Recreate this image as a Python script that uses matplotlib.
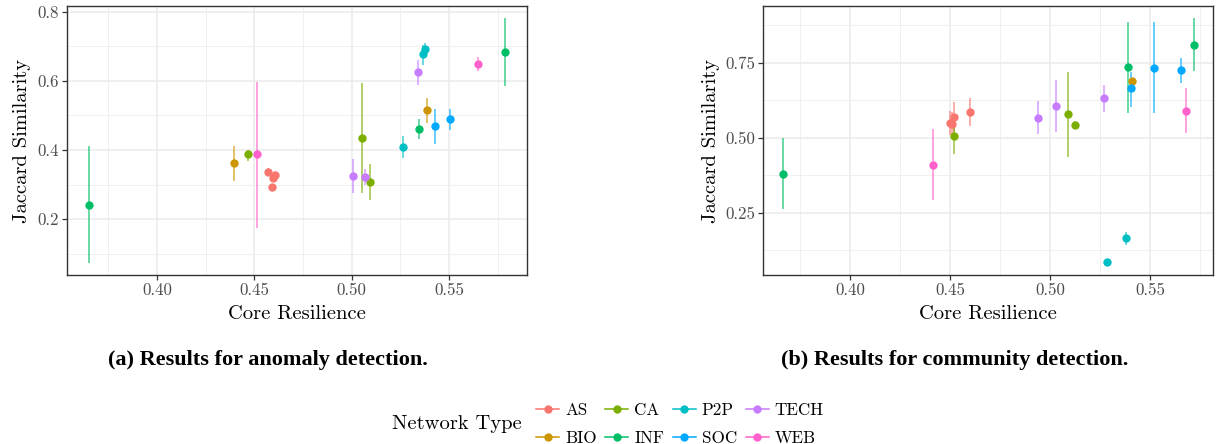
import matplotlib.pyplot as plt
from matplotlib.lines import Line2D
from matplotlib.ticker import MultipleLocator

# ------------------------------------------------------------
# Data: one list per column, per panel
# ------------------------------------------------------------
types = ["AS", "BIO", "CA", "INF", "P2P", "SOC", "TECH", "WEB"]
colors = ["#F8766D", "#CD9600", "#7CAE00", "#00BE67",
          "#00BFC4", "#00A9FF", "#C77CFF", "#FF61CC"]

# (a) anomaly detection
a_type = ["AS", "AS", "AS", "AS", "BIO", "BIO", "CA", "CA", "CA",
          "INF", "INF", "INF", "P2P", "P2P", "P2P", "SOC", "SOC",
          "TECH", "TECH", "TECH", "WEB", "WEB"]
a_x = [0.4571, 0.4607, 0.4597, 0.4593, 0.4398, 0.5386, 0.4465, 0.5055, 0.5092,
       0.3650, 0.5344, 0.5788, 0.5265, 0.5364, 0.5378, 0.5427, 0.5506,
       0.5009, 0.5067, 0.5340, 0.4513, 0.5650]
a_y = [0.336, 0.329, 0.318, 0.292, 0.361, 0.516, 0.388, 0.434, 0.307,
       0.241, 0.460, 0.683, 0.410, 0.678, 0.693, 0.469, 0.489,
       0.325, 0.323, 0.625, 0.388, 0.649]
a_lo = [0.325, 0.318, 0.308, 0.280, 0.310, 0.479, 0.369, 0.276, 0.255,
        0.072, 0.431, 0.584, 0.378, 0.646, 0.680, 0.417, 0.458,
        0.276, 0.300, 0.588, 0.175, 0.629]
a_hi = [0.347, 0.340, 0.328, 0.302, 0.412, 0.552, 0.400, 0.593, 0.359,
        0.412, 0.490, 0.782, 0.440, 0.705, 0.710, 0.518, 0.518,
        0.374, 0.344, 0.661, 0.598, 0.669]

# (b) community detection
b_type = ["AS", "AS", "AS", "AS", "BIO", "CA", "CA", "CA",
          "INF", "INF", "INF", "P2P", "P2P", "SOC", "SOC", "SOC",
          "TECH", "TECH", "TECH", "WEB", "WEB"]
b_x = [0.4502, 0.4508, 0.4520, 0.4600, 0.5410, 0.4520, 0.5089, 0.5124,
       0.3667, 0.5387, 0.5718, 0.5283, 0.5380, 0.5403, 0.5520, 0.5653,
       0.4939, 0.5029, 0.5270, 0.4414, 0.5679]
b_y = [0.550, 0.545, 0.570, 0.585, 0.689, 0.507, 0.578, 0.543,
       0.379, 0.735, 0.809, 0.086, 0.167, 0.665, 0.732, 0.726,
       0.567, 0.606, 0.632, 0.410, 0.588]
b_lo = [0.510, 0.510, 0.520, 0.539, 0.679, 0.446, 0.437, 0.530,
        0.262, 0.581, 0.722, 0.080, 0.142, 0.603, 0.581, 0.683,
        0.512, 0.520, 0.587, 0.292, 0.515]
b_hi = [0.590, 0.585, 0.620, 0.631, 0.699, 0.550, 0.720, 0.556,
        0.498, 0.887, 0.898, 0.092, 0.185, 0.720, 0.885, 0.765,
        0.622, 0.692, 0.676, 0.528, 0.665]

# ------------------------------------------------------------
# Style
# ------------------------------------------------------------
plt.rcParams["font.family"] = ["cmr10", "DejaVu Serif"]
plt.rcParams["axes.formatter.use_mathtext"] = True

W, H = 1217, 444
fig = plt.figure(figsize=(W / 100, H / 100), dpi=100)

def fbox(x0, x1, y0, y1):
    # pixel box -> figure fraction
    return [x0 / W, 1 - y1 / H, (x1 - x0) / W, (y1 - y0) / H]

def draw_panel(ax, ptype, x, y, lo, hi, xlim, ylim, ymaj, ylabpad):
    for t, c in zip(types, colors):
        idx = [i for i, p in enumerate(ptype) if p == t]
        if not idx:
            continue
        xs = [x[i] for i in idx]
        ys = [y[i] for i in idx]
        err = [[y[i] - lo[i] for i in idx], [hi[i] - y[i] for i in idx]]
        ax.errorbar(xs, ys, yerr=err, fmt="none", ecolor=c, elinewidth=1.1,
                    alpha=0.75, capsize=0, zorder=3)
        ax.plot(xs, ys, "o", color=c, markersize=6, markeredgewidth=0, zorder=4)
    ax.set_xlim(*xlim)
    ax.set_ylim(*ylim)
    ax.xaxis.set_major_locator(MultipleLocator(0.05))
    ax.xaxis.set_minor_locator(MultipleLocator(0.025))
    ax.yaxis.set_major_locator(MultipleLocator(ymaj))
    ax.yaxis.set_minor_locator(MultipleLocator(ymaj / 2))
    ax.xaxis.set_major_formatter(plt.FormatStrFormatter("%.2f"))
    ax.grid(True, which="major", color="#EBEBEB", lw=1.1, zorder=0)
    ax.grid(True, which="minor", color="#F0F0F0", lw=0.7, zorder=0)
    ax.set_axisbelow(True)
    ax.tick_params(which="major", length=3.5, width=0.9, color="#333333",
                   labelcolor="#4D4D4D", labelsize=12.2, pad=2)
    ax.tick_params(which="minor", length=0)
    for sp in ax.spines.values():
        sp.set_color("#333333")
        sp.set_linewidth(1.0)
    ax.set_xlabel("Core Resilience", fontsize=14.8, labelpad=5)
    ax.set_ylabel("Jaccard Similarity", fontsize=14.8, labelpad=ylabpad)

ax1 = fig.add_axes(fbox(67, 527, 6, 275))
draw_panel(ax1, a_type, a_x, a_y, a_lo, a_hi,
           (0.3538, 0.590), (0.038, 0.817), 0.2, 5)
ax1.yaxis.set_major_formatter(plt.FormatStrFormatter("%.1f"))

ax2 = fig.add_axes(fbox(763, 1213, 6, 275))
draw_panel(ax2, b_type, b_x, b_y, b_lo, b_hi,
           (0.3566, 0.5814), (0.042, 0.939), 0.25, 4)
ax2.yaxis.set_major_formatter(plt.FormatStrFormatter("%.2f"))

# ------------------------------------------------------------
# Sub-captions
# ------------------------------------------------------------
cap_kw = dict(ha="center", va="center", fontsize=16, fontweight="bold",
              family="Liberation Serif")
fig.text(268 / W, 1 - 360 / H, "(a) Results for anomaly detection.", **cap_kw)
fig.text(955 / W, 1 - 360 / H, "(b) Results for community detection.", **cap_kw)

# ------------------------------------------------------------
# Shared legend
# ------------------------------------------------------------
handles = [Line2D([0], [0], color=c, lw=1.1, marker="o", markersize=6,
                  markeredgewidth=0) for c in colors]
fig.legend(handles, types, ncol=4, loc="center left",
           bbox_to_anchor=(536 / W, 1 - 424 / H), frameon=False,
           fontsize=12.3, handlelength=1.35, handletextpad=0.35,
           columnspacing=0.5, labelspacing=0.75, borderpad=0, borderaxespad=0)
fig.text(392 / W, 1 - 424 / H, "Network Type", ha="left", va="center",
         fontsize=14.8)

fig.savefig("out.png", dpi=100)
